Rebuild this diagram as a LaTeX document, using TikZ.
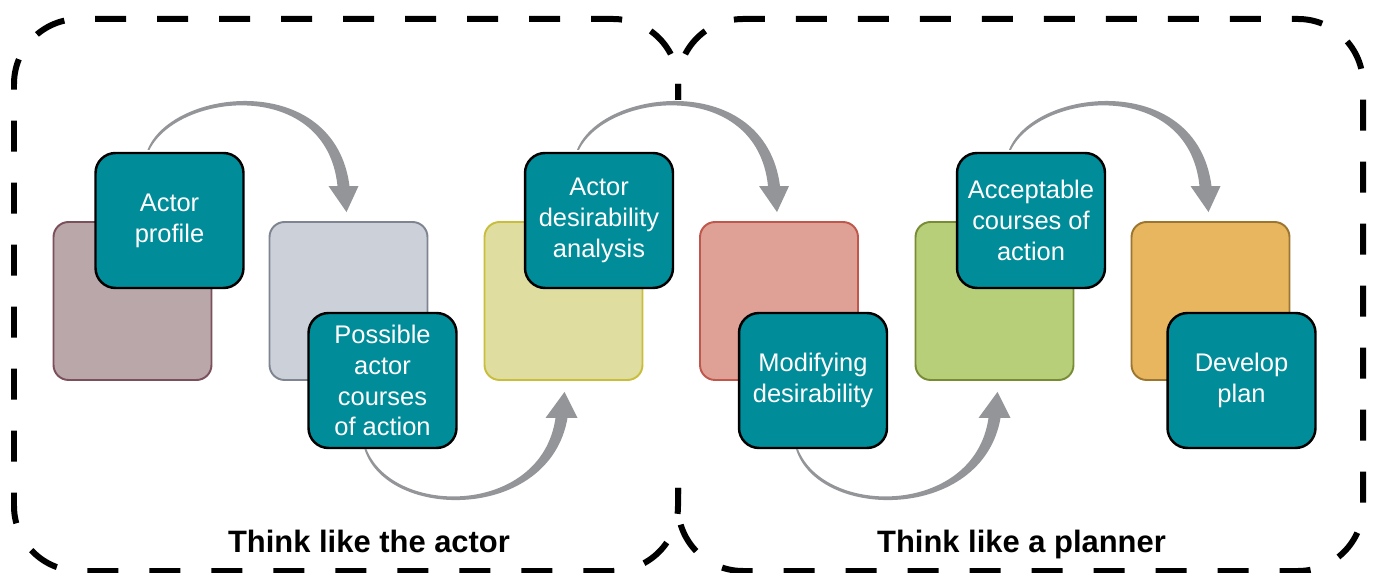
\documentclass[tikz,border=0pt]{standalone}
\usepackage{fontspec}
\setmainfont{Liberation Sans}
\usetikzlibrary{calc}
\usetikzlibrary{positioning}

\definecolor{tealbox}{HTML}{008C99}
\definecolor{arrowgray}{HTML}{939598}
\definecolor{brownfill}{HTML}{BAA7AA}
\definecolor{brownline}{HTML}{7B4F5B}
\definecolor{grayfill}{HTML}{CCD1D9}
\definecolor{grayline}{HTML}{7F8590}
\definecolor{yellowfill}{HTML}{E0DDA0}
\definecolor{yellowline}{HTML}{C9BD3C}
\definecolor{redfill}{HTML}{DFA095}
\definecolor{redline}{HTML}{C0574C}
\definecolor{greenfill}{HTML}{B8CF79}
\definecolor{greenline}{HTML}{788B35}
\definecolor{orangefill}{HTML}{E7B65E}
\definecolor{orangeline}{HTML}{9C7530}

\tikzset{
	square/.style={draw, line width=1.1pt, rounded corners=0.3cm, minimum width=3.16cm, minimum height=3.16cm},
	stepbox/.style={draw=black, fill=tealbox, line width=1.4pt, rounded corners=0.4cm, minimum width=2.96cm, minimum height=2.7cm, inner sep=1pt, text=white, align=center, font=\fontsize{14.5}{17.6}\selectfont},
	flow/.style={fill=arrowgray},
	outline/.style={draw=black, line width=0.12cm, dash pattern=on 0.62cm off 0.62cm, dash phase=0.3cm, rounded corners=1.3cm},
	phase/.style={anchor=base, font=\fontsize{17.6}{20}\selectfont\bfseries}
}

% tapered arrow over the top, #1 start, #2 end of shaft
\newcommand{\overarc}[2]{%
	\fill[flow] ($(#1)+(-1,0)$) .. controls +(25,-62) and +(-15,-116) .. ($(#2)+(6,0)$)
		-- ($(#2)+(15,0)$) -- ($(#2)+(3,26)$) -- ($(#2)+(-15,0)$) -- ($(#2)+(-6,0)$)
		.. controls +(-11,-108) and +(29,-58) .. ($(#1)+(1,0)$) -- cycle;}
% tapered arrow underneath, #1 start, #2 end of shaft
\newcommand{\underarc}[2]{%
	\fill[flow] ($(#1)+(-1,0)$) .. controls +(23,72) and +(-18,104) .. ($(#2)+(6,0)$)
		-- ($(#2)+(16,0)$) -- ($(#2)+(3,-26)$) -- ($(#2)+(-16,0)$) -- ($(#2)+(-6,0)$)
		.. controls +(-14,98) and +(27,68) .. ($(#1)+(1,0)$) -- cycle;}

\begin{document}
\begin{tikzpicture}[x=0.02cm, y=-0.02cm]
	\useasboundingbox (0,0) rectangle (1375,573);
	% the two phases, open where they meet
	\draw[outline] (678,100) -- (678,19) -- (14,19) -- (14,571) -- (678,571) -- (678,488);
	\draw[outline] (678,100) -- (678,19) -- (1363,19) -- (1363,571) -- (678,571) -- (678,488);
	\node[phase] (p1) at (369,553) {Think like the actor};
	\node[phase] (p2) at (1021.5,553) {Think like a planner};
	% background squares
	\coordinate (a) at (132.5,301);
	\coordinate (b) at (348.5,301);
	\coordinate (c) at (563.5,301);
	\coordinate (d) at (779,301);
	\coordinate (e) at (994.5,301);
	\coordinate (f) at (1210.5,301);
	\draw (a) node[square, fill=brownfill, draw=brownline] (s1) {};
	\draw (b) node[square, fill=grayfill, draw=grayline] (s2) {};
	\draw (c) node[square, fill=yellowfill, draw=yellowline] (s3) {};
	\draw (d) node[square, fill=redfill, draw=redline] (s4) {};
	\draw (e) node[square, fill=greenfill, draw=greenline] (s5) {};
	\draw (f) node[square, fill=orangefill, draw=orangeline] (s6) {};
	% steps
	\node[stepbox] (t1) at ($(a)+(37,-80.5)$) {Actor\\profile};
	\node[stepbox] (t2) at ($(b)+(34,79.5)$) {Possible\\actor\\courses\\of action};
	\node[stepbox] (t3) at ($(c)+(35.5,-80.5)$) {Actor\\desirability\\analysis};
	\node[stepbox] (t4) at ($(d)+(34,79.5)$) {Modifying\\desirability};
	\node[stepbox] (t5) at ($(e)+(36.5,-80.5)$) {Acceptable\\courses of\\action};
	\node[stepbox] (t6) at ($(f)+(31,79.5)$) {Develop\\plan};
	% arrows
	\coordinate (u1) at ($(t1.north)+(-21,-2)$);
	\coordinate (v1) at ($(s2.north)+(-5,-35)$);
	\coordinate (u2) at ($(t2.south)+(-17,0)$);
	\coordinate (v2) at ($(s3.south)+(-2,37)$);
	\coordinate (u3) at ($(t3.north)+(-21,-2)$);
	\coordinate (v3) at ($(s4.north)+(-5,-35)$);
	\coordinate (u4) at ($(t4.south)+(-16,0)$);
	\coordinate (v4) at ($(s5.south)+(0,37)$);
	\coordinate (u5) at ($(t5.north)+(-21,-2)$);
	\coordinate (v5) at ($(s6.north)+(-5,-35)$);
	\overarc{u1}{v1}
	\underarc{u2}{v2}
	\overarc{u3}{v3}
	\underarc{u4}{v4}
	\overarc{u5}{v5}
\end{tikzpicture}
\end{document}
